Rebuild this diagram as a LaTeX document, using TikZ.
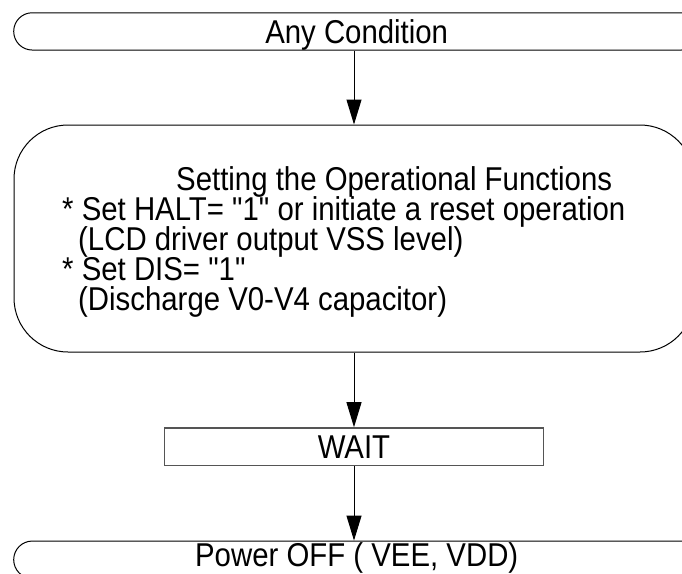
\documentclass[tikz,border=0pt]{standalone}
\usepackage{fontspec}
\setmainfont{Liberation Sans}[Ligatures=TeXOff, FakeStretch=0.89]
\usetikzlibrary{arrows.meta}
\begin{document}
\begin{tikzpicture}[x=1pt,y=-1pt,
  txt/.style={font=\fontsize{33}{34}\selectfont},
  term/.style={txt, draw=black, line width=1pt, rounded corners=18.6pt,
    minimum width=686pt, minimum height=37.3pt, inner sep=0pt,
    text height=23.5pt, text depth=0pt},
  procbox/.style={draw=black, line width=1pt, rounded corners=54pt,
    minimum width=680pt, minimum height=227pt, inner sep=0pt},
  waitbox/.style={txt, draw={rgb,255:red,85;green,85;blue,85}, line width=1.6pt,
    minimum width=379pt, minimum height=37.5pt, inner sep=0pt,
    text height=23.5pt, text depth=0pt},
  lbl/.style={txt, anchor=base west, inner sep=0pt},
  arr/.style={-{Triangle[length=25pt,width=15pt]}, line width=1pt}
]
\useasboundingbox (0,0) rectangle (682,573);
\clip (0,0) rectangle (682,573);
\node[term] (start) at (356.7,31.4) {Any Condition};
\node[procbox] (set) at (354,238.5) {};
\node[lbl] (l1) at (176,190) {Setting the Operational Functions};
\node[lbl] (l2) at (62,220) {* Set HALT= "1" or initiate a reset operation};
\node[lbl] (l3) at (78,250) {(LCD driver output VSS level)};
\node[lbl] (l4) at (62,280) {* Set DIS= "1"};
\node[lbl] (l5) at (78,310) {(Discharge V0-V4 capacitor)};
\node[waitbox] (wait) at (354,446.75) {WAIT};
\node[term, text depth=10pt] (off) at (356.7,559.7) {Power OFF ( VEE, VDD)};
\draw[arr] (set.north |- start.south) -- (set.north);
\draw[arr] (set.south) -- (wait.north);
\draw[arr] (wait.south) -- (wait.south |- off.north);
\end{tikzpicture}
\end{document}
